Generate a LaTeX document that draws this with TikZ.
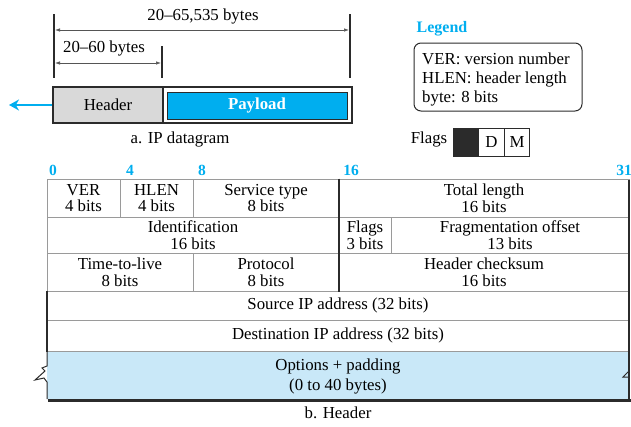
\documentclass[tikz,border=0pt]{standalone}
\usepackage{fontspec}
\setmainfont{Liberation Serif}
\usetikzlibrary{arrows.meta}
\definecolor{ipblue}{HTML}{00AEEF}
\definecolor{lightblue}{HTML}{C9E8F8}
\definecolor{hdrgray}{HTML}{D9D9D9}
\definecolor{gridgray}{HTML}{9A9A9A}
\definecolor{inkdark}{HTML}{2B2B2B}
\tikzset{
  txt/.style={font=\fontsize{16.8}{17}\selectfont, inner sep=0pt, align=center},
  tick/.style={draw=inkdark, line width=1.2pt},
  dim/.style={draw=inkdark!80, line width=0.7pt, {Latex[length=5pt,width=3.5pt]}-{Latex[length=5pt,width=3.5pt]}},
  cell/.style={draw=gridgray, line width=1pt, rectangle, inner sep=0pt, align=center,
               font=\fontsize{16.8}{16.5}\selectfont},
  bitnum/.style={font=\bfseries\fontsize{15.5}{16}\selectfont, text=ipblue, inner sep=0pt},
  shade/.style={draw=inkdark, line width=2pt},
  flagbox/.style={draw=inkdark, line width=1pt, minimum width=25.5pt, minimum height=28pt,
                  inner sep=0pt, font=\fontsize{16.8}{17}\selectfont}
}
% a field of the header: name, x1, y1, x2, y2, text
\newcommand\fieldcell[6]{%
  \node[cell, minimum width={(#4-#2)*1pt}, minimum height={(#5-#3)*1pt}]
    (#1) at ({(#2+#4)/2},{(#3+#5)/2}) {#6};}
\begin{document}
\begin{tikzpicture}[x=1pt,y=-1pt]
\useasboundingbox (0,0) rectangle (631,426);

% ---------- a. IP datagram ----------
\coordinate (d0t) at (54,14);  \coordinate (d0b) at (54,78);
\coordinate (d1t) at (350,14); \coordinate (d1b) at (350,78);
\coordinate (d2t) at (162,46); \coordinate (d2b) at (162,78);
\draw[tick] (d0t) -- (d0b);
\draw[tick] (d1t) -- (d1b);
\draw[tick] (d2t) -- (d2b);
\coordinate (a0) at (55,30);  \coordinate (a1) at (349,30);
\coordinate (b0) at (55,63);  \coordinate (b1) at (161,63);
\draw[dim] (a0) -- (a1);
\draw[dim] (b0) -- (b1);
\node[txt] (totlen) at (203,16) {20–65,535 bytes};
\node[txt] (hdrlen) at (104,48) {20–60 bytes};

\node[draw=inkdark, line width=1.2pt, minimum width=299pt, minimum height=36pt, inner sep=0pt]
  (dgram) at (202.5,105) {};
\node[draw=inkdark, line width=1.2pt, fill=hdrgray, minimum width=110pt, minimum height=36pt,
      inner sep=0pt, txt] (hdr) at (108,105) {Header};
\node[draw=inkdark, line width=1pt, fill=ipblue, minimum width=180pt, minimum height=27pt,
      inner sep=0pt, txt, text=white, font=\bfseries\fontsize{16.8}{17}\selectfont]
  (payload) at (257,105.5) {Payload};
\coordinate (arrowend) at (9,105);
\draw[ipblue, line width=2.6pt, -{Stealth[length=10pt,width=11pt]}] (hdr.west) -- (arrowend);
\node[txt] (capa) at (180,139) {a. IP datagram};

% ---------- legend ----------
\node[txt, text=ipblue, font=\bfseries\fontsize{16}{17}\selectfont] (legtitle) at (442,29) {Legend};
\node[draw=inkdark, line width=1pt, rounded corners=7pt, minimum width=168pt, minimum height=68pt,
      inner sep=0pt] (legbox) at (498,77) {};
\node[txt, anchor=west, align=left, font=\fontsize{16.8}{19}\selectfont] (legtext) at (422,79)
  {VER: version number\\HLEN: header length\\byte: 8 bits};

\node[txt] (flagslbl) at (429,139) {Flags};
\node[flagbox, fill=inkdark] (fl0) at (466,142) {};
\node[flagbox] (flD) at (491.5,142) {D};
\node[flagbox] (flM) at (517,142) {M};

% ---------- b. Header ----------
\node[bitnum] (n0)  at (53,170)  {0};
\node[bitnum] (n4)  at (130,170) {4};
\node[bitnum] (n8)  at (202,170) {8};
\node[bitnum] (n16) at (351,170) {16};
\node[bitnum] (n31) at (624,170) {31};

\fieldcell{ver}{47}{179}{120}{217}{VER\\4 bits}
\fieldcell{hlen}{120}{179}{193}{217}{HLEN\\4 bits}
\fieldcell{tos}{193}{179}{339}{217}{Service type\\8 bits}
\fieldcell{tlen}{339}{179}{629}{217}{Total length\\16 bits}
\fieldcell{ident}{47}{217}{339}{253}{Identification\\16 bits}
\fieldcell{flags}{339}{217}{391}{253}{Flags\\3 bits}
\fieldcell{frag}{391}{217}{629}{253}{Fragmentation offset\\13 bits}
\fieldcell{ttl}{47}{253}{193}{291}{Time-to-live\\8 bits}
\fieldcell{proto}{193}{253}{339}{291}{Protocol\\8 bits}
\fieldcell{csum}{339}{253}{629}{291}{Header checksum\\16 bits}
\fieldcell{src}{47}{291}{629}{320}{Source IP address (32 bits)}
\fieldcell{dst}{47}{320}{629}{351}{Destination IP address (32 bits)}

% options field with torn edges
\coordinate (oTL) at (47,351);  \coordinate (oTR) at (629,351);
\coordinate (oBL) at (47,399);  \coordinate (oBR) at (629,399);
\fill[lightblue] (oTL) -- (oTR) -- (oBR) -- (oBL) -- cycle;
\draw[gridgray, line width=1pt] (oTL) -- (oTR);
\draw[inkdark, line width=1pt] (oTL) -- (47,366) -- (42,368) -- (45,371) -- (35,380) -- (44,378) -- (47,382) -- (oBL);
\draw[inkdark, line width=1pt] (oTR) -- (629,371) -- (623,377) -- (629,377) -- (oBR);
\node[txt, font=\fontsize{16.8}{20}\selectfont] (opts) at (338,376) {Options + padding\\(0 to 40 bytes)};

% dark frame lines
\draw[shade] (tlen.north west) -- (csum.south west);
\draw[shade] (src.north west) -- (dst.south west);
\draw[shade] (629,180) -- (629,401);
\draw[inkdark, line width=3pt] (48,400.5) -- (631,400.5);

\node[txt] (capb) at (338,413) {b. Header};
\end{tikzpicture}
\end{document}
